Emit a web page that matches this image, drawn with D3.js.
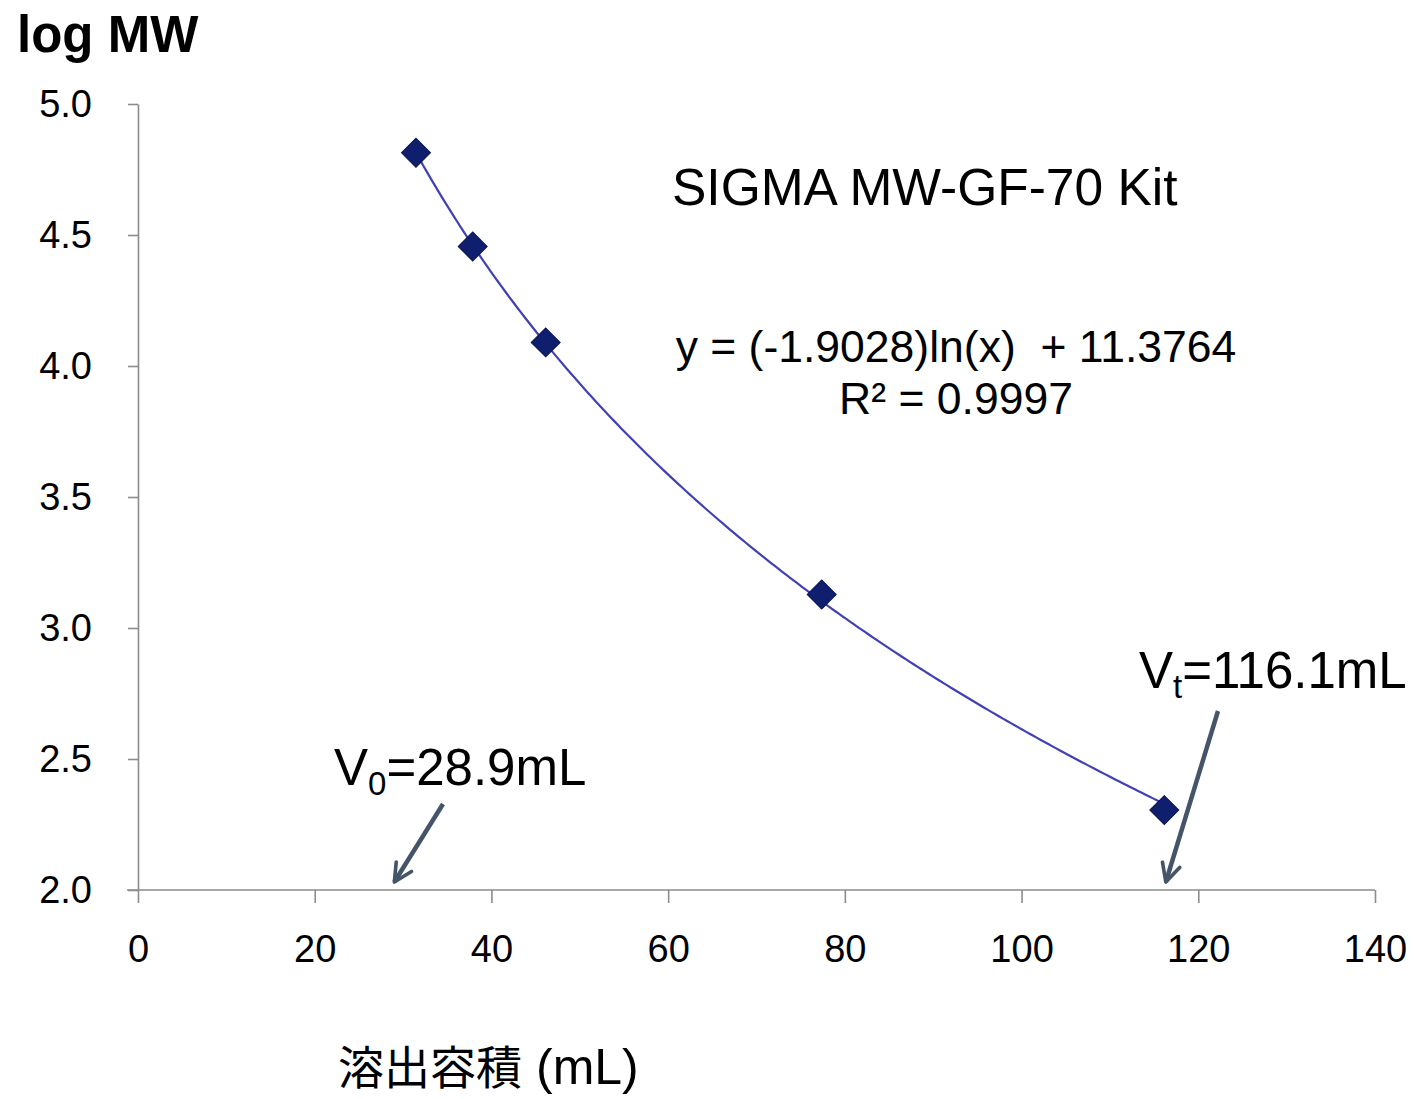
<!DOCTYPE html>
<html>
<head>
<meta charset="utf-8">
<script src="https://cdn.jsdelivr.net/npm/d3@7"></script>
<style>
  html, body { margin: 0; padding: 0; background: #fff; }
  svg { display: block; }
  text { font-family: "Liberation Sans", Arial, sans-serif; fill: #000; }
</style>
</head>
<body>
<svg id="chart" width="1414" height="1099"></svg>
<script>
// Calibration standards: elution volume (mL) vs log MW
const elutionVolume = [31.46, 37.88, 46.14, 77.38, 116.15];
const logMW = [4.814, 4.456, 4.090, 3.128, 2.305];

// Logarithmic fit reported for the standards
const fitSlope = -1.9028;
const fitIntercept = 11.3764;
const fitR2 = "0.9997";

const xTicks = [0, 20, 40, 60, 80, 100, 120, 140];
const yTicks = [2.0, 2.5, 3.0, 3.5, 4.0, 4.5, 5.0];

// Void and total column volumes
const voidVolume = 28.9;
const totalVolume = 116.1;

const svg = d3.select("#chart");
const x = d3.scaleLinear().domain([0, 140]).range([138, 1375]);
const y = d3.scaleLinear().domain([2.0, 5.0]).range([890, 104]);

const axisColor = "#8c8c8c";
const tickFont = 38;

// Y axis
const yAxis = svg.append("g")
  .attr("transform", `translate(${x(0)},0)`)
  .call(d3.axisLeft(y).tickValues(yTicks).tickSize(10).tickSizeOuter(0)
        .tickFormat(d3.format(".1f")));
yAxis.attr("font-size", tickFont).attr("font-family", "Liberation Sans, Arial, sans-serif");
yAxis.select(".domain").attr("stroke", axisColor).attr("stroke-width", 1.6);
yAxis.selectAll(".tick line").attr("stroke", axisColor).attr("stroke-width", 1.6);
yAxis.selectAll(".tick text")
  .attr("x", -46)
  .attr("fill", "#000");

// X axis
const xAxis = svg.append("g")
  .attr("transform", `translate(0,${y(2.0)})`)
  .call(d3.axisBottom(x).tickValues(xTicks).tickSize(13).tickSizeOuter(0)
        .tickFormat(d3.format("d")));
xAxis.attr("font-size", tickFont).attr("font-family", "Liberation Sans, Arial, sans-serif");
xAxis.select(".domain").attr("stroke", axisColor).attr("stroke-width", 1.6)
  .attr("d", `M${x(0) - 11},0H${x(140)}`);
xAxis.selectAll(".tick line").attr("stroke", axisColor).attr("stroke-width", 1.6);
xAxis.selectAll(".tick text")
  .attr("y", 45)
  .attr("fill", "#000");

// Trendline: y = a ln(x) + b across the range of the standards
const xMin = d3.min(elutionVolume), xMax = d3.max(elutionVolume);
const fitPts = d3.range(0, 201).map(i => {
  const v = xMin + (xMax - xMin) * i / 200;
  return [v, fitSlope * Math.log(v) + fitIntercept];
});
svg.append("path")
  .datum(fitPts)
  .attr("fill", "none")
  .attr("stroke", "#4141b4")
  .attr("stroke-width", 2.2)
  .attr("d", d3.line().x(d => x(d[0])).y(d => y(d[1])));

// Diamond markers
const diamond = d3.symbol().type(d3.symbolSquare).size(420);
svg.append("g").selectAll("path")
  .data(elutionVolume.map((v, i) => [v, logMW[i]]))
  .join("path")
  .attr("d", diamond)
  .attr("transform", d => `translate(${x(d[0])},${y(d[1])}) rotate(45)`)
  .attr("fill", "#0f1f6e")
  .attr("stroke", "#0a1450")
  .attr("stroke-width", 1);

// Y axis title
svg.append("text")
  .attr("x", 17).attr("y", 52)
  .attr("font-size", 51).attr("font-weight", "bold")
  .text("log MW");

// X axis title
const xt = svg.append("text")
  .attr("x", 338).attr("y", 1084);
xt.append("tspan")
  .attr("font-size", 46)
  .attr("font-family", "'Noto Sans CJK JP', sans-serif")
  .text("溶出容積");
xt.append("tspan")
  .attr("dx", 14)
  .attr("font-size", 50)
  .text("(mL)");

// Kit name
svg.append("text")
  .attr("x", 672).attr("y", 205)
  .attr("font-size", 51.5)
  .text("SIGMA MW-GF-70 Kit");

// Fit equation
svg.append("text")
  .attr("x", 956).attr("y", 362)
  .attr("text-anchor", "middle")
  .attr("font-size", 44.5)
  .attr("xml:space", "preserve")
  .text(`y = (${fitSlope})ln(x)  + ${fitIntercept.toFixed(4)}`);
svg.append("text")
  .attr("x", 956).attr("y", 414)
  .attr("text-anchor", "middle")
  .attr("font-size", 44.5)
  .text(`R² = ${fitR2}`);

// Annotations with arrows
const arrowColor = "#445469";
const defs = svg.append("defs");
defs.append("marker")
  .attr("id", "arrowhead")
  .attr("viewBox", "0 0 10 10")
  .attr("refX", 9).attr("refY", 5)
  .attr("markerWidth", 5).attr("markerHeight", 5)
  .attr("orient", "auto")
  .append("path")
  .attr("d", "M1,1 L9,5 L1,9")
  .attr("fill", "none")
  .attr("stroke", arrowColor)
  .attr("stroke-width", 1.6)
  .attr("stroke-linecap", "round")
  .attr("stroke-linejoin", "round");

function annotate(label, sub, value, tx, ty, x0, y0, vx) {
  const t = svg.append("text").attr("x", tx).attr("y", ty).attr("font-size", 51);
  t.append("tspan").text(label);
  t.append("tspan").attr("font-size", 33).attr("dy", 10).text(sub);
  t.append("tspan").attr("dy", -10).text(`=${value}mL`);
  svg.append("line")
    .attr("x1", x0).attr("y1", y0)
    .attr("x2", vx).attr("y2", y(2.0) - 8)
    .attr("stroke", arrowColor)
    .attr("stroke-width", 4.5)
    .attr("marker-end", "url(#arrowhead)");
}
annotate("V", "0", voidVolume.toFixed(1), 334, 785, 443, 804, x(voidVolume) + 1);
annotate("V", "t", totalVolume.toFixed(1), 1139, 688, 1218, 711, x(totalVolume) + 2);
</script>
</body>
</html>
